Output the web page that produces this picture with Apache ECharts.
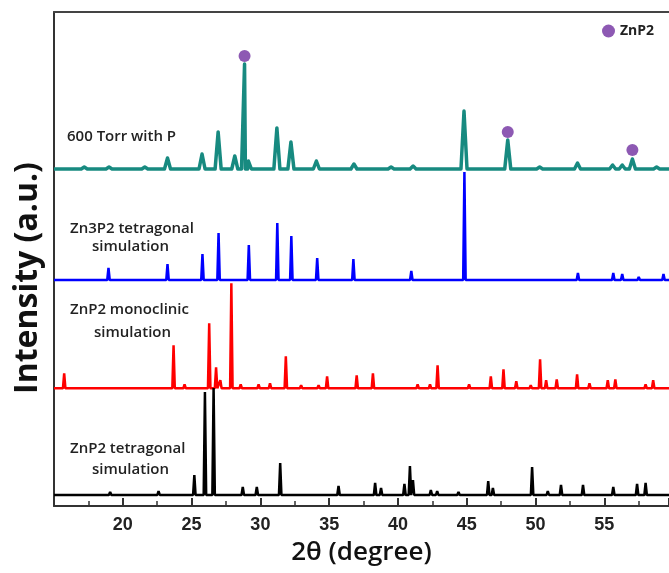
<!DOCTYPE html>
<html>
<head>
<meta charset="utf-8">
<script src="https://cdn.jsdelivr.net/npm/echarts@6/dist/echarts.min.js"></script>
<style>
  html, body { margin: 0; padding: 0; background: #fff; }
  #xrd { width: 669px; height: 573px; }
</style>
</head>
<body>
<div id="xrd"></div>
<script>
// 2theta range of the plot
var xMin = 15;
var xMax = 59.7;

// vertical offsets of each pattern (a.u.)
var baseExp = 337;
var baseZn3P2 = 226;
var baseMono = 117.7;
var baseTet = 11;

// [2theta, peak height]
var expPeaks = [
    [17.2, 2], [19.0, 2], [21.6, 2], [23.25, 11], [25.76, 15], [26.93, 37], [28.14, 13],
    [28.85, 105], [29.13, 8], [31.2, 41], [32.22, 27], [34.07, 8], [36.8, 5],
    [39.5, 2], [41.1, 3], [44.8, 58], [47.98, 29], [50.3, 2], [53.05, 6],
    [55.6, 4], [56.3, 4], [57.04, 10], [58.8, 2]
];
var zn3p2Peaks = [
    [18.96, 12], [23.25, 16], [25.79, 26], [26.96, 47], [29.16, 35], [31.23, 57],
    [32.25, 44], [33.27, 2], [34.13, 22], [36.76, 21], [40.97, 9], [44.83, 108],
    [46.96, 2], [49.07, 1], [51.1, 1], [52.46, 2], [53.08, 7], [54.5, 2],
    [55.65, 7], [56.3, 6], [57.5, 3], [59.3, 6]
];
var monoPeaks = [
    [15.74, 15], [18.4, 2], [21.0, 2], [23.69, 43], [24.49, 4], [26.28, 65],
    [26.78, 21], [27.09, 8], [27.89, 105], [28.57, 4], [29.87, 4], [30.7, 5],
    [31.85, 32], [32.96, 3], [34.23, 3], [34.85, 12], [37.0, 13], [38.18, 15],
    [41.43, 4], [42.33, 4], [42.88, 23], [45.17, 4], [46.75, 12], [47.67, 19],
    [48.6, 7], [49.65, 3], [50.33, 29], [50.77, 8], [51.54, 9], [53.02, 14],
    [53.92, 5], [55.25, 8], [55.8, 9], [58.0, 4], [58.55, 8]
];
var tetPeaks = [
    [18.06, 2], [19.08, 3], [22.6, 4], [25.2, 20], [25.97, 103], [26.6, 107],
    [28.72, 8], [29.74, 8], [31.44, 32], [35.68, 9], [38.34, 12], [38.77, 7],
    [39.95, 2], [40.47, 11], [40.87, 29], [41.09, 15], [42.39, 5], [42.85, 4],
    [44.4, 3], [46.56, 14], [46.9, 7], [49.75, 28], [50.89, 4], [51.85, 10],
    [53.05, 2], [53.45, 10], [54.78, 2], [55.65, 8], [56.33, 2], [57.38, 11],
    [58.0, 12], [59.3, 1]
];
// ZnP2 markers over the measured pattern [2theta, intensity]
var znp2Marks = [[28.85, 450], [47.98, 374], [57.04, 356]];

function toLine(peaks, base, w) {
    var pts = [[xMin, base], [xMax, base]];
    peaks.forEach(function (p) {
        pts.push([p[0] - w, base], [p[0], base + p[1]], [p[0] + w, base]);
    });
    pts.sort(function (a, b) { return a[0] - b[0]; });
    return pts;
}

var dom = document.getElementById("xrd");
var myChart = echarts.init(dom);

var labelFont = { fontFamily: 'Open Sans', fontWeight: 600, fontSize: 15, fill: '#222' };

option = {
    animation: false,
    backgroundColor: '#fff',
    grid: { left: 54, right: 0, top: 12, bottom: 67 },
    legend: {
        data: ['ZnP2'],
        left: 597, top: 19,
        itemWidth: 13, itemHeight: 13, itemGap: 4,
        textStyle: { fontFamily: 'Open Sans', fontWeight: 700, fontSize: 14, color: '#222' }
    },
    xAxis: [
        {
            type: 'value',
            min: xMin, max: xMax, interval: 5,
            name: '2\u03b8 (degree)',
            nameLocation: 'middle', nameGap: 34,
            nameTextStyle: { fontFamily: 'Open Sans', fontWeight: 600, fontSize: 26, color: '#111' },
            axisLine: { lineStyle: { color: '#333', width: 2 } },
            axisTick: { inside: true, length: 8, lineStyle: { color: '#333', width: 2 } },
            minorTick: { show: true, splitNumber: 2, length: 5, lineStyle: { color: '#333', width: 1.5 } },
            axisLabel: {
                showMinLabel: false, showMaxLabel: false, margin: 10,
                fontFamily: 'Liberation Sans', fontWeight: 'bold', fontSize: 18, color: '#222'
            },
            splitLine: { show: false }
        },
        {
            type: 'value', position: 'top',
            min: xMin, max: xMax,
            axisLine: { show: true, lineStyle: { color: '#444', width: 2 } },
            axisTick: { show: false }, axisLabel: { show: false }, splitLine: { show: false }
        }
    ],
    yAxis: {
        type: 'value', min: 0, max: 494,
        axisLine: { show: true, lineStyle: { color: '#333', width: 2 } },
        axisTick: { show: false }, axisLabel: { show: false }, splitLine: { show: false }
    },
    graphic: [
        {
            type: 'text', x: 28, y: 278, rotation: Math.PI / 2,
            style: {
                text: 'Intensity (a.u.)', align: 'center', verticalAlign: 'middle',
                fontFamily: 'Open Sans', fontWeight: 700, fontSize: 32, fill: '#111'
            }
        },
        { type: 'text', left: 67, top: 129, style: Object.assign({ text: '600 Torr with P' }, labelFont) },
        { type: 'text', left: 70, top: 221, style: Object.assign({ text: 'Zn3P2 tetragonal' }, labelFont) },
        { type: 'text', left: 92, top: 239, style: Object.assign({ text: 'simulation' }, labelFont) },
        { type: 'text', left: 70, top: 302, style: Object.assign({ text: 'ZnP2 monoclinic' }, labelFont) },
        { type: 'text', left: 94, top: 325, style: Object.assign({ text: 'simulation' }, labelFont) },
        { type: 'text', left: 70, top: 441, style: Object.assign({ text: 'ZnP2 tetragonal' }, labelFont) },
        { type: 'text', left: 92, top: 462, style: Object.assign({ text: 'simulation' }, labelFont) }
    ],
    series: [
        {
            name: '600 Torr with P', type: 'line', showSymbol: false,
            data: toLine(expPeaks, baseExp, 0.22),
            lineStyle: { color: '#178a80', width: 3.5, join: 'round' }, itemStyle: { color: '#178a80' }
        },
        {
            name: 'Zn3P2 tetragonal', type: 'line', showSymbol: false,
            data: toLine(zn3p2Peaks, baseZn3P2, 0.09),
            lineStyle: { color: '#0000ff', width: 2.5 }, itemStyle: { color: '#0000ff' }
        },
        {
            name: 'ZnP2 monoclinic', type: 'line', showSymbol: false,
            data: toLine(monoPeaks, baseMono, 0.09),
            lineStyle: { color: '#ff0000', width: 2.5 }, itemStyle: { color: '#ff0000' }
        },
        {
            name: 'ZnP2 tetragonal', type: 'line', showSymbol: false,
            data: toLine(tetPeaks, baseTet, 0.09),
            lineStyle: { color: '#000000', width: 2.5 }, itemStyle: { color: '#000000' }
        },
        {
            name: 'ZnP2', type: 'scatter', symbol: 'circle', symbolSize: 12,
            data: znp2Marks,
            itemStyle: { color: '#7030a0' }
        }
    ]
};

myChart.setOption(option);
</script>
</body>
</html>
